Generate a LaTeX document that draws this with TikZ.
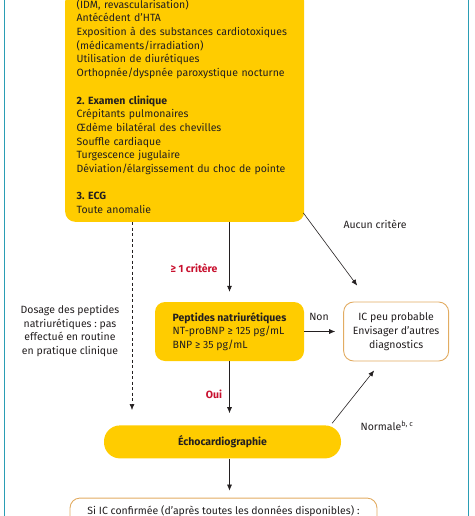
\documentclass[tikz,border=0pt]{standalone}
\usepackage{fontspec}
\setmainfont{Fira Sans}
\usepackage{xcolor}
\usetikzlibrary{positioning,arrows.meta}
\definecolor{CritYellow}{HTML}{FFCC00}
\definecolor{FrameTeal}{HTML}{2A9DB4}
\definecolor{BoxTan}{HTML}{E2AC62}
\definecolor{LabelRed}{HTML}{C8102E}
\definecolor{InkBlack}{HTML}{231F20}

\begin{document}
\frenchspacing
\begin{tikzpicture}[x=1pt, y=-1pt, font=\fontsize{10.5}{13.7}\selectfont, text=InkBlack,
        criteria/.style={rectangle, fill=CritYellow, rounded corners=10pt, align=left, text width=216pt, inner xsep=11.5pt, inner ysep=8pt},
        peptide/.style={rectangle, fill=CritYellow, rounded corners=10pt, align=left, minimum width=149pt, minimum height=59pt, inner xsep=10pt},
        echobox/.style={rectangle, fill=CritYellow, rounded corners=16pt, minimum width=237pt, minimum height=33pt, font=\fontsize{10.5}{13.7}\selectfont\bfseries},
        outcome/.style={rectangle, draw=BoxTan, line width=0.9pt, fill=white, rounded corners=10pt, align=center, minimum width=105pt, minimum height=59pt},
        redlabel/.style={font=\fontsize{10.5}{13.7}\selectfont\bfseries, text=LabelRed},
        arrow/.style={draw=InkBlack, line width=0.6pt, -{Latex[length=6pt,width=5pt]}}
    ]
        \useasboundingbox (0,0) rectangle (474,516);

        % frame
        \draw [FrameTeal, line width=1.5pt] (4.5,0) -- (4.5,516);
        \draw [FrameTeal, line width=1.5pt] (468.5,0) -- (468.5,516);

        % criteria box
        \node [criteria, anchor=south west] (crit) at (65,222) {(IDM, revascularisation)\\
            Antécédent d'HTA\\
            Exposition à des substances cardiotoxiques\\
            (médicaments/irradiation)\\
            Utilisation de diurétiques\\
            Orthopnée/dyspnée paroxystique nocturne\\[13.7pt]
            \textbf{2. Examen clinique}\\
            Crépitants pulmonaires\\
            Œdème bilatéral des chevilles\\
            Souffle cardiaque\\
            Turgescence jugulaire\\
            Déviation/élargissement du choc de pointe\\[13.7pt]
            \textbf{3. ECG}\\
            Toute anomalie};

        % tests
        \node [peptide] (pep) at (229.5,331.5) {\textbf{Peptides natriurétiques}\\NT-proBNP ≥ 125 pg/mL\\BNP ≥ 35 pg/mL};
        \node [outcome, right=39pt of pep] (ic) {IC peu probable\\Envisager d'autres\\diagnostics};
        \node [echobox, below=64pt of pep, xshift=-7pt] (echo) {Échocardiographie};
        \node [rectangle, draw=BoxTan, line width=0.9pt, fill=white, rounded corners=10pt, minimum width=307pt, anchor=north, text depth=25pt, inner ysep=8pt] (conf) at ([yshift=-39pt, xshift=1pt]echo.south) {Si IC confirmée (d'après toutes les données disponibles) :};

        % note
        \node [align=center] (note) at (70,331) {Dosage des peptides\\natriurétiques : pas\\effectué en routine\\en pratique clinique};

        \coordinate (dashtop) at (crit.south -| 132,0);
        \coordinate (dashend) at (132,410);

        \draw [arrow] (crit.south -| pep.north) -- (pep.north) [shorten >=10pt];
        \draw [arrow, dashed, dash pattern=on 3pt off 2.5pt] (dashtop) -- (dashend);
        \draw [arrow] (pep.east) -- (ic.west) [shorten >=8pt];
        \draw [arrow] (pep.south) -- (pep.south |- echo.north) [shorten >=12pt];
        \draw [arrow] (echo.south -| pep.south) -- (pep.south |- conf.north) [shorten >=7pt];
        \draw [arrow] ([shift={(-1,-9)}]crit.south east) -- ([shift={(-39,-16)}]ic.north);
        \draw [arrow] ([shift={(-9,-2)}]echo.north east) -- ([shift={(-22,9)}]ic.south);

        \node [redlabel] (one) at (194,268) {≥ 1 critère};
        \node [redlabel] (yes) at (214,394) {Oui};
        \node (no) at (319,317) {Non};
        \node (none) at (375,224) {Aucun critère};
        \node (normal) at (387,426) {Normale\textsuperscript{b, c}};
    \end{tikzpicture}
\end{document}
